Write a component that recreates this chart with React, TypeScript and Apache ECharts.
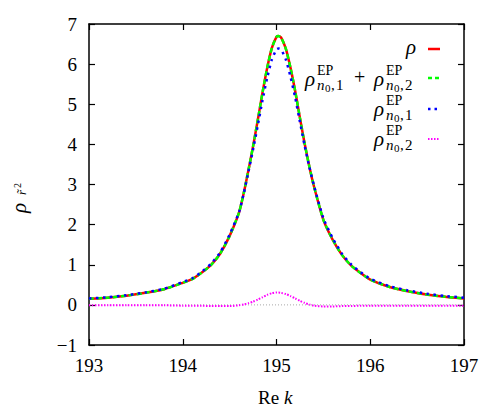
import React, { useEffect, useRef } from "react";
import * as echarts from "echarts";

// Re k sample points
const kValues = [
  193.0, 193.2, 193.4, 193.6, 193.8, 194.0, 194.1, 194.2, 194.3, 194.4, 194.5,
  194.6, 194.65, 194.7, 194.75, 194.8, 194.85, 194.9, 194.95, 195.0, 195.02,
  195.05, 195.1, 195.15, 195.2, 195.25, 195.3, 195.35, 195.4, 195.5, 195.6,
  195.7, 195.8, 195.9, 196.0, 196.2, 196.4, 196.6, 196.8, 197.0,
];

// rho
const rhoValues = [
  0.15, 0.18, 0.23, 0.3, 0.39, 0.55, 0.64, 0.8, 0.99, 1.28, 1.72, 2.3, 2.78,
  3.35, 3.95, 4.6, 5.28, 5.9, 6.4, 6.68, 6.7, 6.66, 6.38, 5.9, 5.32, 4.66, 4.02,
  3.45, 2.95, 2.12, 1.62, 1.24, 0.97, 0.79, 0.63, 0.45, 0.34, 0.26, 0.2, 0.16,
];

// rho^EP_{n0,1} + rho^EP_{n0,2}
const epSumValues = [
  0.15, 0.18, 0.23, 0.3, 0.39, 0.55, 0.64, 0.8, 0.99, 1.28, 1.72, 2.3, 2.78,
  3.35, 3.95, 4.6, 5.28, 5.9, 6.4, 6.68, 6.7, 6.66, 6.38, 5.9, 5.32, 4.66, 4.02,
  3.45, 2.95, 2.12, 1.62, 1.24, 0.97, 0.79, 0.63, 0.45, 0.34, 0.26, 0.2, 0.16,
];

// rho^EP_{n0,1}
const ep1Values = [
  0.16, 0.19, 0.24, 0.31, 0.4, 0.57, 0.66, 0.82, 1.02, 1.31, 1.75, 2.31, 2.77,
  3.31, 3.87, 4.47, 5.09, 5.65, 6.11, 6.37, 6.39, 6.36, 6.11, 5.68, 5.16, 4.56,
  3.97, 3.44, 2.97, 2.16, 1.66, 1.27, 1.0, 0.81, 0.65, 0.47, 0.36, 0.28, 0.22,
  0.18,
];

// rho^EP_{n0,2}
const ep2Values = [
  -0.01, -0.01, -0.01, -0.01, -0.01, -0.02, -0.02, -0.02, -0.03, -0.03, -0.03,
  -0.01, 0.01, 0.04, 0.08, 0.13, 0.19, 0.25, 0.29, 0.31, 0.31, 0.3, 0.27, 0.22,
  0.16, 0.1, 0.05, 0.01, -0.02, -0.04, -0.04, -0.03, -0.03, -0.02, -0.02, -0.02,
  -0.02, -0.02, -0.02, -0.02,
];

const xRange = [193, 197];
const yRange = [-1, 7];
const zeroLine = [0, 0];

const SERIF = "Liberation Serif";

const pairs = (ys: number[]) => kValues.map((k, i) => [k, ys[i]]);

function txt(text: string, x: number, y: number, size: number, italic = false) {
  const style: Record<string, unknown> = {
    text,
    fontFamily: SERIF,
    fontSize: size,
    fill: "#000",
  };
  if (italic) style.fontStyle = "italic";
  return { type: "text", x, y, silent: true, style };
}

// rho^EP_{n_0,idx} built from pieces; x = left edge, t = top of the rho glyph box
function epTerm(x: number, t: number, idx: string) {
  return [
    txt("ρ", x, t, 21, true),
    txt("EP", x + 12, t - 5, 14),
    txt("n", x + 12, t + 9, 15, true),
    txt("0", x + 20, t + 14, 11),
    txt(",", x + 26, t + 9, 15),
    txt(idx, x + 31, t + 9, 15),
  ];
}

function sample(y: number, color: string, dash: number[] | null, width: number) {
  return {
    type: "line",
    silent: true,
    shape: { x1: 428, y1: y, x2: 440, y2: y },
    style: {
      stroke: color,
      lineWidth: width,
      lineDash: dash || undefined,
    },
  };
}

export default function App() {
  const ref = useRef<HTMLDivElement>(null);

  useEffect(() => {
    document.body.style.margin = "0";
    if (!ref.current) return;
    const chart = echarts.init(ref.current, null, { renderer: "svg" });

    const axisLine = { show: true, onZero: false, lineStyle: { color: "#000", width: 1.5 } };
    const axisTick = { show: true, inside: true, length: 6, lineStyle: { color: "#000", width: 1.2 } };
    const labelStyle = { fontSize: 19, fontFamily: SERIF, color: "#000" };
    const fmt = (v: number) => String(v).replace("-", "\u2212");

    const option = {
      animation: false,
      grid: { left: 89, right: 38, top: 24, bottom: 69, containLabel: false },
      xAxis: [
        {
          type: "value",
          min: xRange[0],
          max: xRange[1],
          interval: 1,
          position: "bottom",
          axisLine,
          axisTick,
          splitLine: { show: false },
          axisLabel: { ...labelStyle, margin: 11, formatter: fmt },
        },
        {
          type: "value",
          min: xRange[0],
          max: xRange[1],
          interval: 1,
          position: "top",
          axisLine,
          axisTick,
          splitLine: { show: false },
          axisLabel: { show: false },
        },
      ],
      yAxis: [
        {
          type: "value",
          min: yRange[0],
          max: yRange[1],
          interval: 1,
          position: "left",
          axisLine,
          axisTick,
          splitLine: { show: false },
          axisLabel: { ...labelStyle, margin: 12, formatter: fmt },
        },
        {
          type: "value",
          min: yRange[0],
          max: yRange[1],
          interval: 1,
          position: "right",
          axisLine,
          axisTick,
          splitLine: { show: false },
          axisLabel: { show: false },
        },
      ],
      series: [
        {
          type: "line",
          data: [
            [xRange[0], zeroLine[0]],
            [xRange[1], zeroLine[1]],
          ],
          showSymbol: false,
          silent: true,
          lineStyle: { color: "#a8a8a8", width: 1, type: [1, 2] },
          z: 1,
        },
        {
          name: "rho",
          type: "line",
          data: pairs(rhoValues),
          showSymbol: false,
          smooth: 0.2,
          lineStyle: { color: "#ff0000", width: 2.5 },
          z: 2,
        },
        {
          name: "sum",
          type: "line",
          data: pairs(epSumValues),
          showSymbol: false,
          smooth: 0.2,
          lineStyle: { color: "#00ff00", width: 2.5, type: [5, 3] },
          z: 3,
        },
        {
          name: "ep1",
          type: "line",
          data: pairs(ep1Values),
          showSymbol: false,
          smooth: 0.2,
          lineStyle: { color: "#0000ff", width: 2.5, type: [2.5, 4.5] },
          z: 4,
        },
        {
          name: "ep2",
          type: "line",
          data: pairs(ep2Values),
          showSymbol: false,
          smooth: 0.2,
          lineStyle: { color: "#ff00ff", width: 2, type: [1.5, 1.5] },
          z: 5,
        },
      ],
      graphic: [
        // legend
        txt("ρ", 406, 36, 21, true),
        sample(49, "#ff0000", null, 2.5),
        ...epTerm(305, 68, "1"),
        txt("+", 354, 67, 20),
        ...epTerm(374, 68, "2"),
        sample(78, "#00ff00", [4, 3], 2.5),
        ...epTerm(374, 98, "1"),
        sample(109, "#0000ff", [2.5, 4], 2.5),
        ...epTerm(374, 128, "2"),
        sample(139, "#ff00ff", [1.5, 1.5], 2),
        // x axis title
        txt("Re", 258, 388, 19),
        txt("k", 284, 388, 19, true),
        // y axis title
        {
          type: "text",
          x: 8,
          y: 213,
          rotation: Math.PI / 2,
          silent: true,
          style: { text: "ρ", fontFamily: SERIF, fontSize: 21, fontStyle: "italic", fill: "#000" },
        },
        {
          type: "text",
          x: 15,
          y: 195,
          rotation: Math.PI / 2,
          silent: true,
          style: { text: "r\u0303", fontFamily: SERIF, fontSize: 13, fontStyle: "italic", fill: "#000" },
        },
        {
          type: "text",
          x: 12,
          y: 188,
          rotation: Math.PI / 2,
          silent: true,
          style: { text: "2", fontFamily: SERIF, fontSize: 10, fill: "#000" },
        },
      ],
    };

    chart.setOption(option as any);
    return () => chart.dispose();
  }, []);

  return <div ref={ref} style={{ width: 502, height: 414 }} />;
}
